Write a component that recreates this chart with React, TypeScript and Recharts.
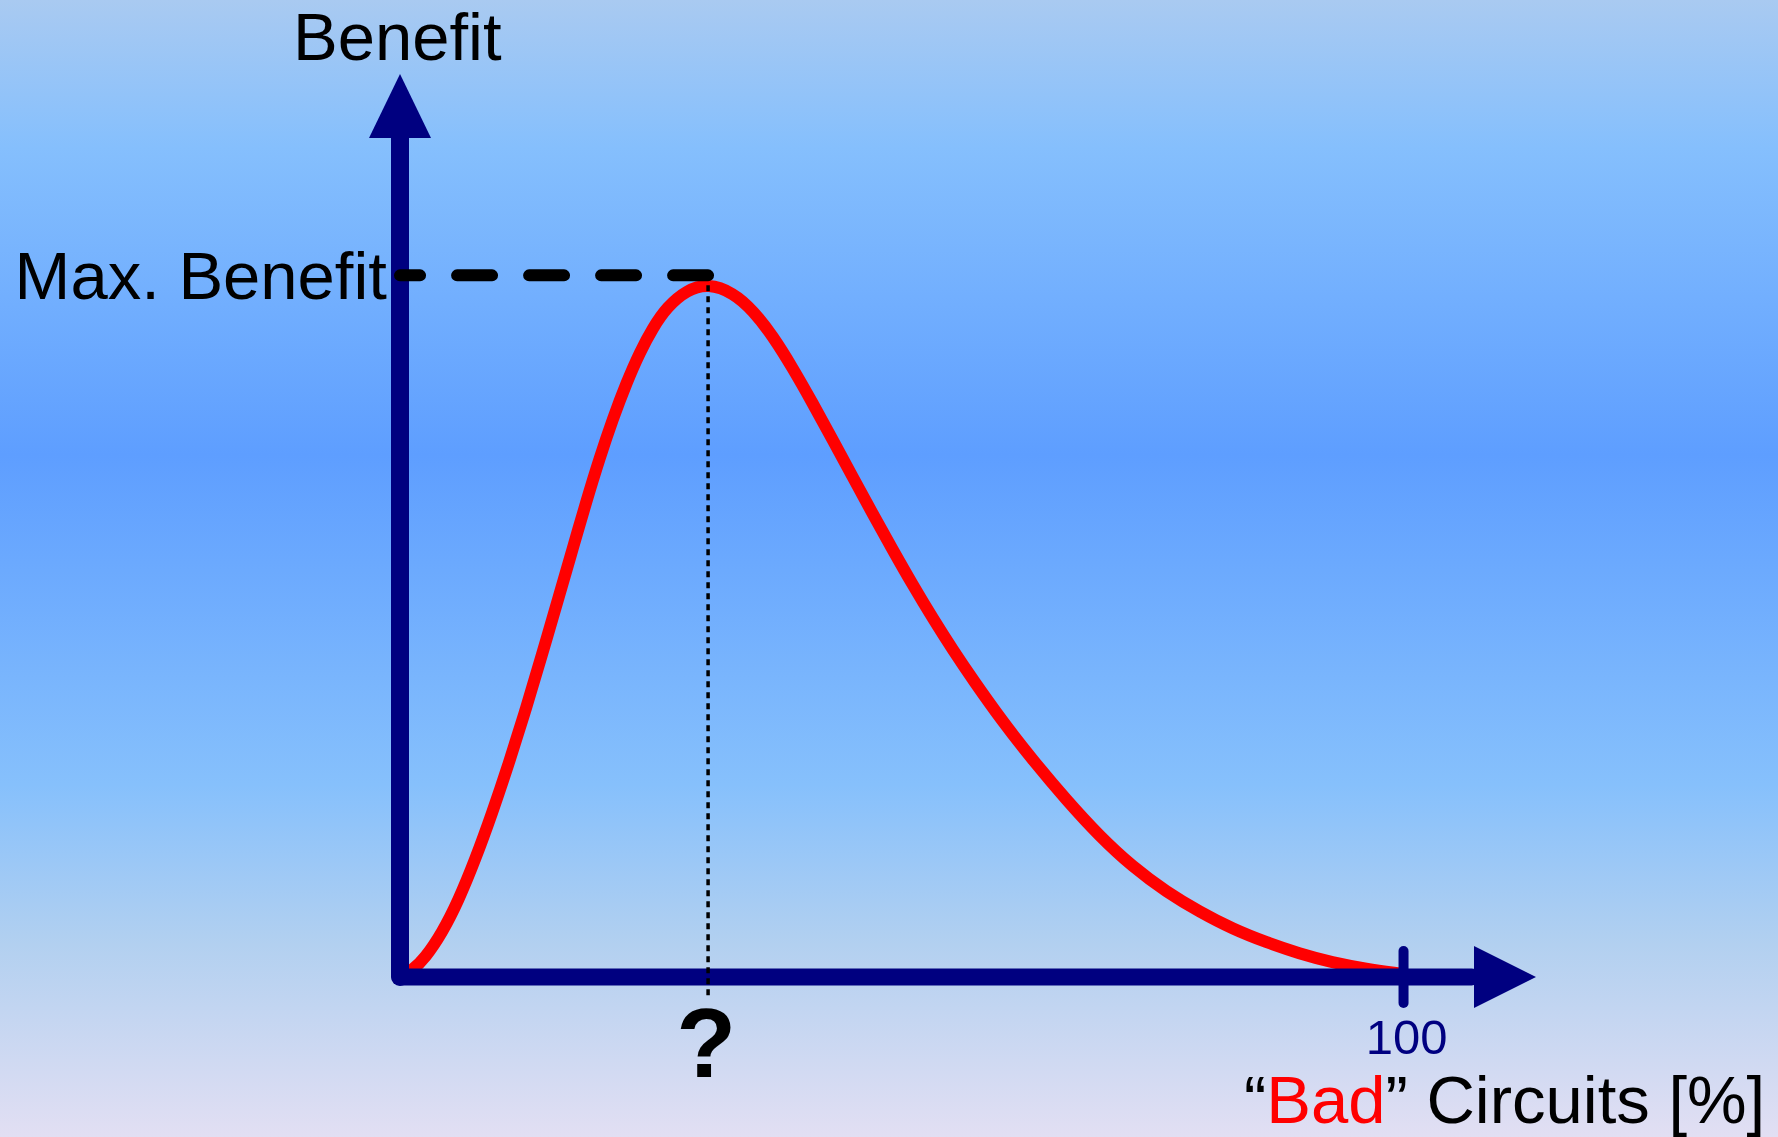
import React from "react";
import { LineChart, Line, XAxis, YAxis, ReferenceLine, ReferenceDot } from "recharts";

// share of "bad" circuits [%] and the benefit
const badPct = [
    0, 1.2, 2.5, 4.2, 5.8, 7.5, 9.2, 10.8, 12.5, 14.1, 15.9, 17.2, 18.6, 19.9, 21.2, 22.6,
    23.9, 25.2, 26.6, 28.6, 30.7, 33.2, 35.2, 37.2, 39.1, 41.1, 43.1, 45.1, 47.1, 49.1, 51.1,
    53.1, 55.1, 57.1, 60.1, 63.0, 66.4, 69.7, 73.0, 76.4, 79.7, 83.0, 86.4, 89.6, 92.9, 96.3, 99.6,
];
const benefit = [
    0, 0.7, 2.1, 4.9, 8.4, 13.0, 18.2, 23.5, 29.5, 35.5, 42.4, 47.4, 52.8, 57.5, 61.8, 65.9,
    69.2, 71.9, 74.2, 76.1, 76.8, 75.8, 73.8, 70.9, 67.5, 63.6, 59.5, 55.4, 51.3, 47.3, 43.4,
    39.7, 36.2, 32.9, 28.2, 24.1, 19.6, 15.6, 12.2, 9.4, 7.2, 5.3, 3.8, 2.6, 1.6, 0.9, 0.4,
];

const PEAK_PCT = 30.7;
const PEAK_BENEFIT = 76.6;
const MAX_LINE = 77.7;
const X_END = 113.2; // arrow tip of the x axis
const Y_END = 100; // arrow tip of the y axis
const X_SHAFT = 106.8;
const Y_SHAFT = 92.9;
const Q_BOTTOM = -2.3; // dotted line runs a bit below the axis

const xTicks = [PEAK_PCT, 100];
const yTicks = [MAX_LINE];

const data = badPct.map((p, i) => ({ pct: p, benefit: benefit[i] }));

const NAVY = "#000080";
const FONT = '"Liberation Sans", Arial, sans-serif';

const XTick = (props: any) => {
    const { x, y, payload } = props;
    if (payload.value === 100) {
        return (
            <text x={x + 3} y={y + 77} textAnchor="middle" fill={NAVY} fontSize={49} fontFamily={FONT}>
                100
            </text>
        );
    }
    return (
        <text x={x - 2} y={y + 100} textAnchor="middle" fill="#000" fontSize={98} fontWeight="bold" fontFamily={FONT}>
            ?
        </text>
    );
};

const YTick = (props: any) => {
    const { x, y } = props;
    return (
        <text x={x - 13} y={y} dy="0.35em" textAnchor="end" fill="#000" fontSize={67} fontFamily={FONT}>
            Max. Benefit
        </text>
    );
};

const arrowRight = (p: any) => (
    <polygon points={`${p.cx},${p.cy} ${p.cx - 62},${p.cy - 31} ${p.cx - 62},${p.cy + 31}`} fill={NAVY} />
);
const arrowUp = (p: any) => (
    <polygon points={`${p.cx},${p.cy} ${p.cx - 31},${p.cy + 64} ${p.cx + 31},${p.cy + 64}`} fill={NAVY} />
);
const tickMark = (p: any) => (
    <line x1={p.cx} x2={p.cx} y1={p.cy - 26} y2={p.cy + 26} stroke={NAVY} strokeWidth={10} strokeLinecap="round" />
);

export default function App() {
    return (
        <div
            style={{
                position: "absolute",
                left: 0,
                top: 0,
                width: 1778,
                height: 1137,
                background:
                    "linear-gradient(to bottom, #a9caf1 0%, #85bffd 13%, #5e9eff 40%, #86c0fc 69%, #b2d0f0 83%, #e2dff3 100%)",
            }}
        >
            <LineChart
                width={1778}
                height={1137}
                data={data}
                margin={{ top: 74, right: 242, bottom: 100, left: 0 }}
            >
                <XAxis
                    dataKey="pct"
                    type="number"
                    domain={[0, X_END]}
                    ticks={xTicks}
                    interval={0}
                    height={60}
                    axisLine={false}
                    tickLine={false}
                    tickSize={0}
                    tickMargin={0}
                    tick={<XTick />}
                />
                <YAxis
                    type="number"
                    domain={[0, Y_END]}
                    ticks={yTicks}
                    width={400}
                    axisLine={false}
                    tickLine={false}
                    tickSize={0}
                    tickMargin={0}
                    tick={<YTick />}
                />
                <Line
                    dataKey="benefit"
                    type="basis"
                    stroke="#ff0000"
                    strokeWidth={12}
                    strokeLinecap="round"
                    strokeLinejoin="round"
                    dot={false}
                    activeDot={false}
                    isAnimationActive={false}
                />
                <ReferenceLine
                    segment={[{ x: 0, y: 0 }, { x: 0, y: Y_SHAFT }]}
                    stroke={NAVY}
                    strokeWidth={18}
                    strokeLinecap="round"
                    ifOverflow="visible"
                />
                <ReferenceLine
                    segment={[{ x: 0, y: 0 }, { x: X_SHAFT, y: 0 }]}
                    stroke={NAVY}
                    strokeWidth={17}
                    strokeLinecap="round"
                    ifOverflow="visible"
                />
                <ReferenceDot x={X_END} y={0} ifOverflow="visible" shape={arrowRight} />
                <ReferenceDot x={0} y={Y_END} ifOverflow="visible" shape={arrowUp} />
                <ReferenceDot x={100} y={0} ifOverflow="visible" shape={tickMark} />
                <ReferenceLine
                    segment={[{ x: PEAK_PCT, y: MAX_LINE }, { x: 0, y: MAX_LINE }]}
                    stroke="#000"
                    strokeWidth={12}
                    strokeDasharray="35 37"
                    strokeLinecap="round"
                    ifOverflow="visible"
                />
                <ReferenceLine
                    segment={[{ x: PEAK_PCT, y: PEAK_BENEFIT }, { x: PEAK_PCT, y: Q_BOTTOM }]}
                    stroke="#000"
                    strokeWidth={3.5}
                    strokeDasharray="6 5"
                    ifOverflow="visible"
                />
            </LineChart>
            <svg
                width={1778}
                height={1137}
                style={{ position: "absolute", left: 0, top: 0, pointerEvents: "none" }}
            >
                <text x={293} y={60} fontSize={67} fontFamily={FONT} fill="#000">
                    Benefit
                </text>
                <text x={1244} y={1123} fontSize={67} fontFamily={FONT} fill="#000">
                    “<tspan fill="#ff0000">Bad</tspan>” Circuits [%]
                </text>
            </svg>
        </div>
    );
}
